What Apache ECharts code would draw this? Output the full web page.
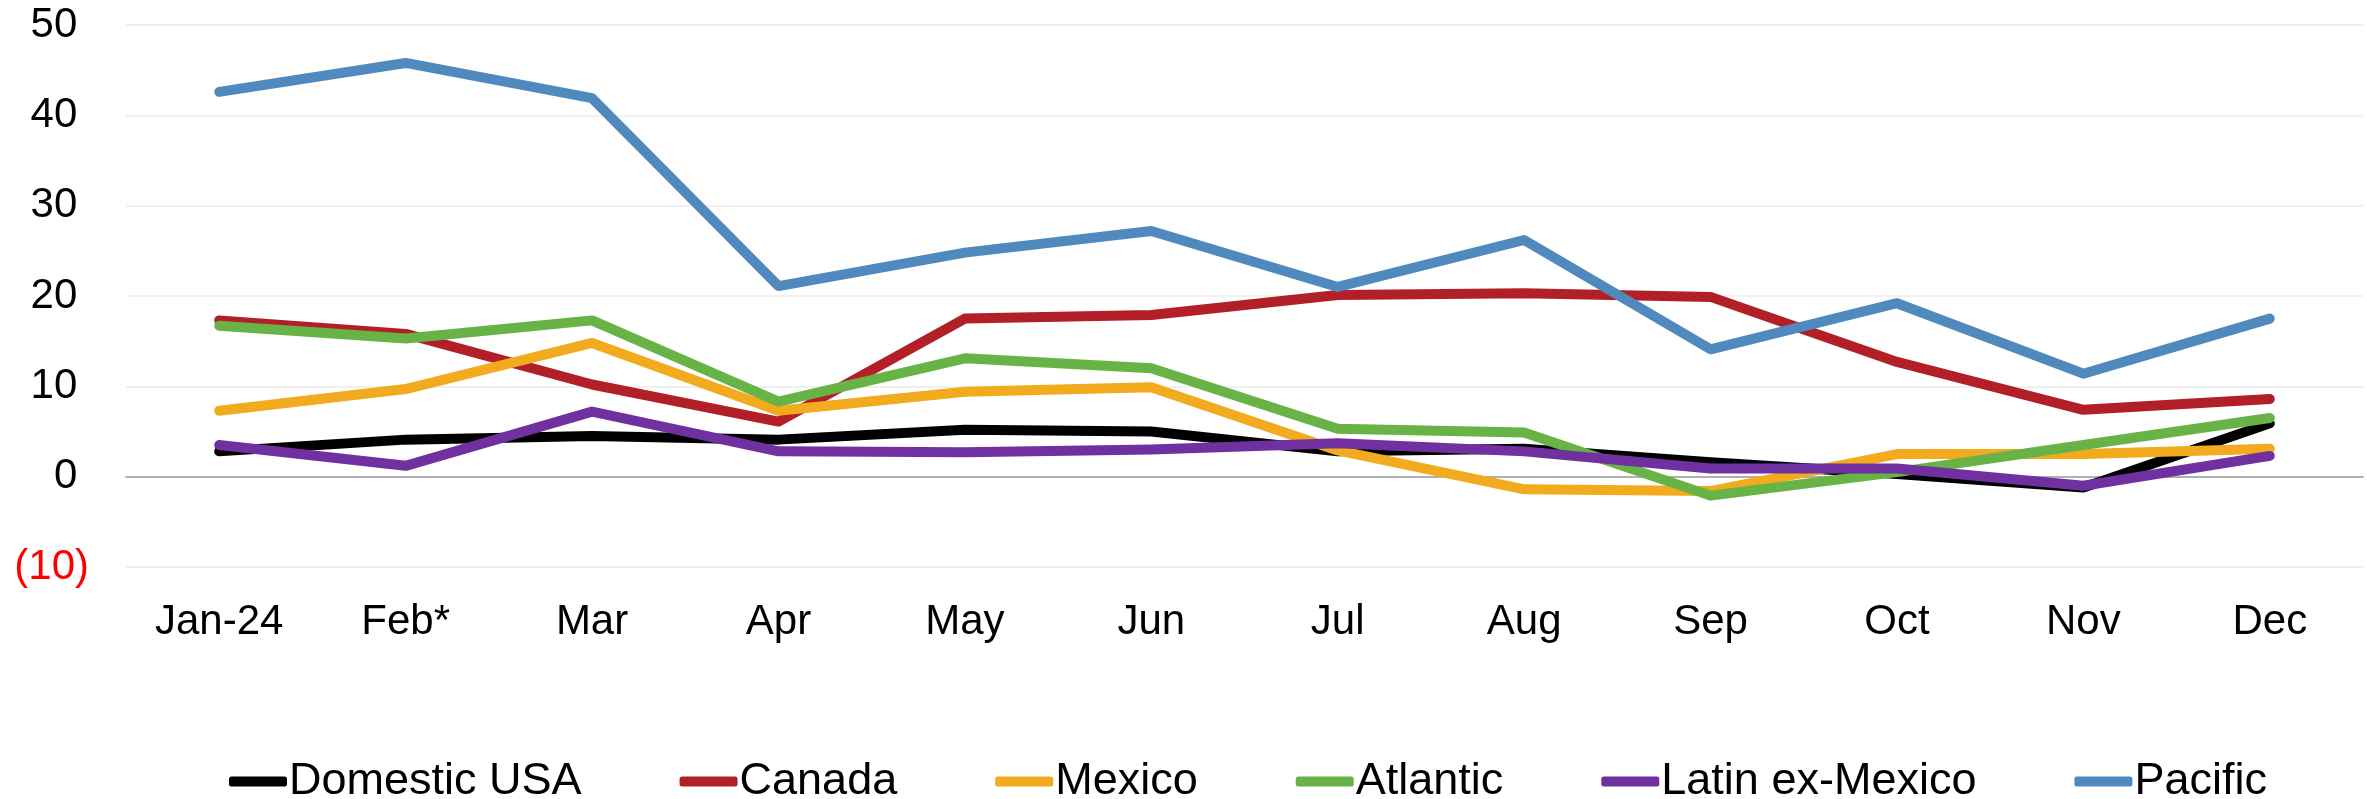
<!DOCTYPE html>
<html>
<head>
<meta charset="utf-8">
<script src="https://cdn.jsdelivr.net/npm/echarts@6/dist/echarts.min.js"></script>
<style>
html,body{margin:0;padding:0;background:#fff;}
#chart{width:2367px;height:799px;}
</style>
</head>
<body>
<div id="chart"></div>
<script>
const categories = ['Jan-24','Feb*','Mar','Apr','May','Jun','Jul','Aug','Sep','Oct','Nov','Dec'];
const domesticUSA = [2.8, 4.1, 4.5, 4.1, 5.2, 5.0, 2.8, 3.1, 1.6, 0.3, -1.2, 5.9];
const canada = [17.3, 15.8, 10.2, 6.1, 17.5, 17.9, 20.1, 20.3, 19.9, 12.7, 7.4, 8.6];
const mexico = [7.3, 9.7, 14.8, 7.3, 9.4, 9.9, 2.9, -1.4, -1.6, 2.5, 2.5, 3.1];
const atlantic = [16.7, 15.3, 17.3, 8.3, 13.1, 12.0, 5.3, 4.9, -2.1, 0.5, 3.5, 6.5];
const latinExMexico = [3.5, 1.2, 7.2, 2.8, 2.7, 3.0, 3.7, 2.8, 0.9, 0.9, -1.0, 2.3];
const pacific = [42.6, 45.8, 41.9, 21.1, 24.8, 27.2, 21.0, 26.2, 14.1, 19.2, 11.4, 17.5];

const seriesNames = ['Domestic USA','Canada','Mexico','Atlantic','Latin ex-Mexico','Pacific'];
const seriesData = [domesticUSA, canada, mexico, atlantic, latinExMexico, pacific];
const seriesColors = ['#000000','#B21F27','#F2AA1E','#67B346','#7030A0','#4F89BD'];

const FONT = '"Liberation Sans", Arial, sans-serif';
const chart = echarts.init(document.getElementById('chart'), null, {renderer:'canvas'});
chart.setOption({
  animation: false,
  backgroundColor: '#ffffff',
  grid: {left: 126, right: 4, top: 25, bottom: 232, containLabel: false},
  legend: {
    left: 224, top: 754,
    itemWidth: 58, itemHeight: 10, itemGap: 98,
    icon: 'roundRect',
    textStyle: {fontFamily: FONT, fontSize: 45, color: '#000', padding: [0, 0, 0, -3]},
    data: seriesNames.map((n, i) => ({name: n, itemStyle: {color: seriesColors[i]}}))
  },
  xAxis: {
    type: 'category',
    data: categories,
    boundaryGap: true,
    axisTick: {show: false},
    axisLine: {show: true, onZero: true, lineStyle: {color: '#9A9A9A', width: 1.5}},
    axisLabel: {fontFamily: FONT, fontSize: 42, color: '#000', margin: 34, interval: 0}
  },
  yAxis: {
    type: 'value',
    min: -10, max: 50, interval: 10,
    axisLine: {show: false},
    axisTick: {show: false},
    splitLine: {show: true, lineStyle: {color: '#F0F0F0', width: 2}},
    axisLabel: {
      fontFamily: FONT, fontSize: 42, margin: 37,
      formatter: v => v < 0 ? '(' + (-v) + ')' : v + ' ',
      color: v => (Number(v) < 0 ? '#FF0000' : '#000000')
    }
  },
  series: seriesNames.map((n, i) => ({
    name: n,
    type: 'line',
    data: seriesData[i],
    symbol: 'none',
    lineStyle: {color: seriesColors[i], width: 10, cap: 'round', join: 'round'},
    itemStyle: {color: seriesColors[i]},
    z: 2 + i
  }))
});
</script>
</body>
</html>
